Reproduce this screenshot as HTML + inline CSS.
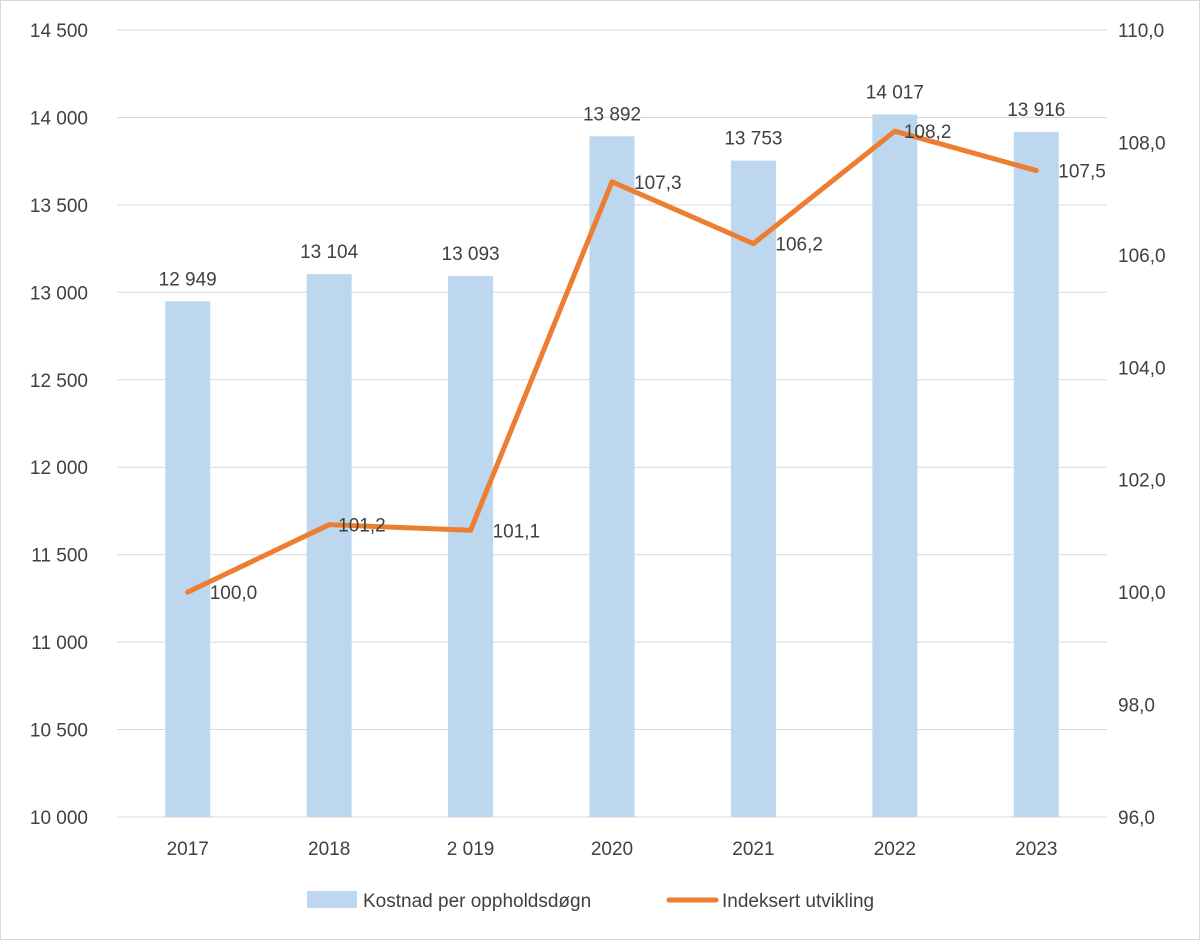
<!DOCTYPE html>
<html><head><meta charset="utf-8"><style>
body{margin:0;background:#fff}
svg{display:block;font-family:"Liberation Sans",sans-serif}
</style></head><body>
<svg id="chart" width="1200" height="940" viewBox="0 0 1200 940">
<rect x="0.5" y="0.5" width="1199" height="939" fill="#fff" stroke="#d9d9d9"/>
<g id="grid"></g><g id="bars"></g><g id="line"></g><g id="labels"></g><g id="axes"></g>
<g>
<rect x="307" y="891" width="50" height="17" fill="#bdd7ee"/>
<text x="363" y="907" font-size="19" fill="#404040">Kostnad per oppholdsdøgn</text>
<line x1="669" y1="900" x2="716" y2="900" stroke="#ed7d31" stroke-width="5" stroke-linecap="round"/>
<text x="722" y="907" font-size="19" fill="#404040">Indeksert utvikling</text>
</g>
</svg>
<script>
const categories=["2017","2018","2 019","2020","2021","2022","2023"];
const costs=[12949,13104,13093,13892,13753,14017,13916];
const costLabels=["12 949","13 104","13 093","13 892","13 753","14 017","13 916"];
const index=[100.0,101.2,101.1,107.3,106.2,108.2,107.5];
const leftTicks=[10000,10500,11000,11500,12000,12500,13000,13500,14000,14500];
const leftTickLabels=["10 000","10 500","11 000","11 500","12 000","12 500","13 000","13 500","14 000","14 500"];
const rightTicks=[96,98,100,102,104,106,108,110];
const labelDx=[22,9,22,22,22,9,22];
const NS="http://www.w3.org/2000/svg";
const x0=117,x1=1107,yTop=30,yBot=817;
const yL=v=>yBot-(v-10000)/(14500-10000)*(yBot-yTop);
const yR=v=>yBot-(v-96)/(110-96)*(yBot-yTop);
const band=(x1-x0)/categories.length;
const xC=i=>x0+band*(i+0.5);
function mk(tag,attrs,parent,text){const e=document.createElementNS(NS,tag);for(const k in attrs)e.setAttribute(k,attrs[k]);if(text!==undefined)e.textContent=text;document.getElementById(parent).appendChild(e);return e;}
leftTicks.forEach((t,i)=>{
 const g=mk("line",{x1:x0,x2:x1,y1:yL(t),y2:yL(t),stroke:"#d9d9d9","stroke-width":1},"grid");
 
 
 const l=mk("text",{x:88,y:yL(t)+7,"text-anchor":"end","font-size":19,fill:"#404040"},"axes",leftTickLabels[i]);
 
 
});
rightTicks.forEach(t=>{
 const l=mk("text",{x:1118,y:yR(t)+7,"font-size":19,fill:"#404040"},"axes",t.toFixed(1).replace(".",","));
 
 
});
categories.forEach((c,i)=>{
 const bw=45;
 const b=mk("rect",{x:xC(i)-bw/2,y:yL(costs[i]),width:bw,height:yBot-yL(costs[i]),fill:"#bdd7ee"},"bars");
 
 
 const bl=mk("text",{x:xC(i),y:yL(costs[i])-16,"text-anchor":"middle","font-size":19,fill:"#404040"},"labels",costLabels[i]);
 
 
 const xl=mk("text",{x:xC(i),y:855,"text-anchor":"middle","font-size":19,fill:"#404040"},"axes",c);
 
 
 const ll=mk("text",{x:xC(i)+labelDx[i],y:yR(index[i])+7,"font-size":19,fill:"#404040"},"labels",index[i].toFixed(1).replace(".",","));
 
 
});
const p=mk("polyline",{points:index.map((v,i)=>xC(i)+","+yR(v)).join(" "),fill:"none",stroke:"#ed7d31","stroke-width":5,"stroke-linejoin":"round","stroke-linecap":"round"},"line");


</script>
</body></html>
